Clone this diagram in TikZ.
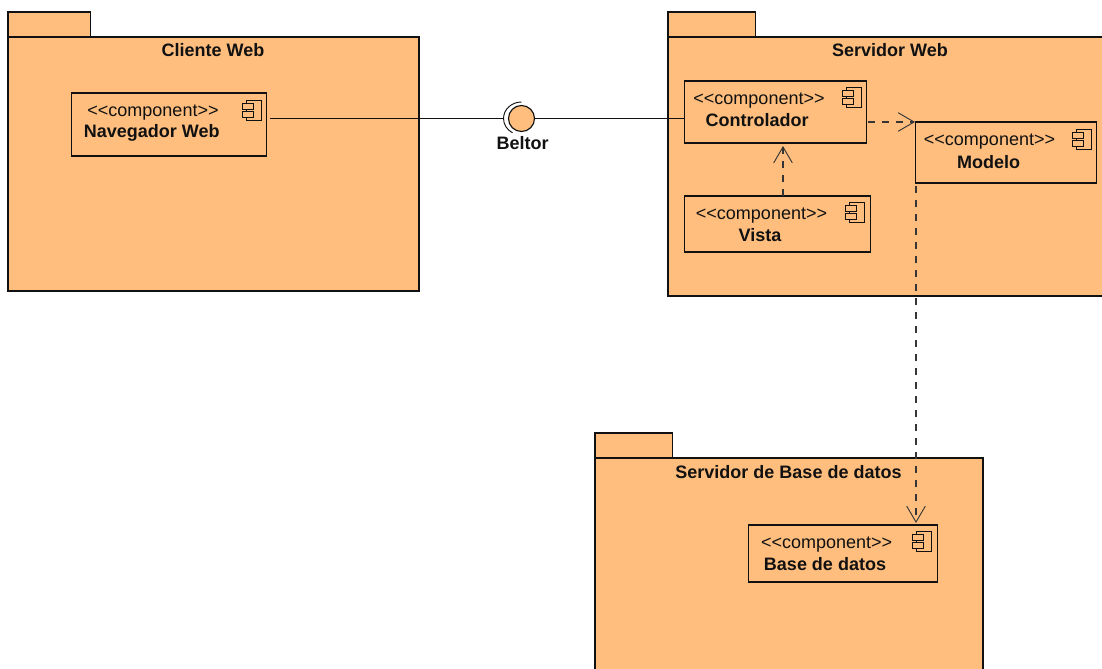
\documentclass[tikz,border=0pt]{standalone}
\usepackage{fontspec}
\setmainfont{Liberation Sans}
\usetikzlibrary{arrows.meta}
\definecolor{pkgfill}{HTML}{FFBE7E}
\definecolor{ink}{HTML}{111111}
\tikzset{
  pkg/.style={draw=ink,fill=pkgfill,line width=0.85pt},
  compbox/.style={draw=ink,fill=pkgfill,line width=0.85pt,inner sep=0pt,outer sep=0pt,anchor=north west},
  stereo/.style={font=\fontsize{13.5}{15}\selectfont,text=ink,inner sep=0pt},
  title/.style={font=\fontsize{13.5}{15}\selectfont\bfseries,text=ink,inner sep=0pt},
  link/.style={draw=ink,line width=0.85pt},
  dep/.style={draw=ink!85,line width=0.8pt,dash pattern=on 5.5pt off 5pt,-{Straight Barb[length=12pt,width=14pt,line width=0.7pt]}},
}
% icon: top-left of the body at (#1,#2) in px
\newcommand{\compicon}[2]{%
  \begin{scope}[shift={(#1,#2)},line width=0.75pt]
    \draw[draw=ink,fill=pkgfill] (0,0) rectangle (15,20);
    \draw[draw=ink,fill=pkgfill] (-4,3.5) rectangle (7,9.5);
    \draw[draw=ink,fill=pkgfill] (-4,11.5) rectangle (7,17.5);
  \end{scope}}
\begin{document}
\begin{tikzpicture}[x=0.75pt,y=-0.75pt]
\clip (0,0) rectangle (1102,668);
% packages
\draw[pkg] (8,12) rectangle (90.5,37);
\draw[pkg] (8,37) rectangle (419,291);
\draw[pkg] (668,12) rectangle (755.5,37);
\draw[pkg] (668,37) rectangle (1115,296);
\draw[pkg] (595,433) rectangle (672.5,458);
\draw[pkg] (595,458) rectangle (983,680);
\node[title] (t1) at (213,50) {Cliente Web};
\node[title] (t2) at (890,50) {Servidor Web};
\node[title] (t3) at (788.5,472) {Servidor de Base de datos};
% components
\node[compbox,minimum width=146.25pt,minimum height=47.25pt] (nav) at (71.5,93) {};
\node[compbox,minimum width=136.5pt,minimum height=46.5pt] (ctrl) at (684.5,81) {};
\node[compbox,minimum width=139.5pt,minimum height=42pt] (vista) at (684.5,196) {};
\node[compbox,minimum width=135.75pt,minimum height=45.75pt] (modelo) at (915.5,122) {};
\node[compbox,minimum width=141.75pt,minimum height=42.75pt] (base) at (748.5,525) {};
\compicon{246}{100}
\compicon{846}{87}
\compicon{849}{202}
\compicon{1076}{129}
\compicon{916}{531}
\node[stereo] (s1) at (153,112.7) {<{}<component>{}>};
\node[title] (n1) at (151.7,133) {Navegador Web};
\node[stereo] (s2) at (759,100.7) {<{}<component>{}>};
\node[title] (n2) at (757,120) {Controlador};
\node[stereo] (s3) at (761.5,215.7) {<{}<component>{}>};
\node[title] (n3) at (760,235.5) {Vista};
\node[stereo] (s4) at (989.5,142) {<{}<component>{}>};
\node[title] (n4) at (988.5,162) {Modelo};
\node[stereo] (s5) at (826.7,544.7) {<{}<component>{}>};
\node[title] (n5) at (825,564) {Base de datos};
% interface
\node[circle,draw=ink,fill=pkgfill,line width=0.85pt,minimum size=19.5pt,inner sep=0pt,outer sep=0pt] (ball) at (521.5,118.5) {};
\draw[draw=ink,line width=0.7pt] (ball.center) ++(-90:16.5) arc[start angle=-90,end angle=-240,x radius=18,y radius=16.5];
\node[title] (lb) at (522.5,143) {Beltor};
\coordinate (navout) at (270,118.5);
\coordinate (sock) at (503,118.5);
\coordinate (ctrlin) at (685,118.5);
\draw[link] (navout) -- (sock);
\draw[link] (ball.east) -- (ctrlin);
% dependencies
\coordinate (d1a) at (868,122);
\coordinate (d1b) at (915,122);
\draw[dep] (d1a) -- (d1b);
\coordinate (d2a) at (783,196);
\coordinate (d2b) at (783,146);
\draw[dep] (d2a) -- (d2b);
\coordinate (d3a) at (916,186);
\coordinate (d3b) at (916,523);
\draw[dep] (d3a) -- (d3b);
\end{tikzpicture}
\end{document}
